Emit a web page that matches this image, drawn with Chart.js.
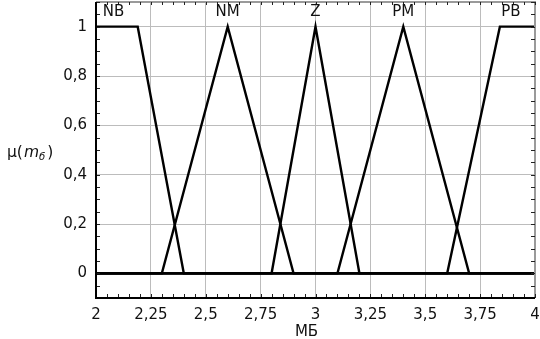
<!DOCTYPE html>
<html>
<head>
<meta charset="utf-8">
<script src="https://cdn.jsdelivr.net/npm/chart.js@4/dist/chart.umd.min.js"></script>
<style>
  html, body { margin: 0; padding: 0; background: #fff; }
  #wrap { width: 540px; height: 339px; }
</style>
</head>
<body>
<div id="wrap"><canvas id="chart"></canvas></div>
<script>
// membership functions (x in MБ, y = mu)
const nbX = [2, 2.19, 2.4, 4];
const nbY = [1, 1, 0, 0];
const nmX = [2, 2.3, 2.6, 2.9, 4];
const nmY = [0, 0, 1, 0, 0];
const zX = [2, 2.8, 3.0, 3.2, 4];
const zY = [0, 0, 1, 0, 0];
const pmX = [2, 3.1, 3.4, 3.7, 4];
const pmY = [0, 0, 1, 0, 0];
const pbX = [2, 3.6, 3.84, 4];
const pbY = [0, 0, 1, 1];

// term names and where they sit on the x axis
const termNames = ["NB", "NM", "Z", "PM", "PB"];
const termPos = [2.08, 2.6, 3.0, 3.4, 3.89];

const xTicks = [2, 2.25, 2.5, 2.75, 3, 3.25, 3.5, 3.75, 4];
const yTicks = [0, 0.2, 0.4, 0.6, 0.8, 1];

const FONT = "DejaVu Sans";

function pts(xs, ys) {
  return xs.map((x, i) => ({ x: x, y: ys[i] }));
}

function comma(v) {
  return String(Math.round(v * 100) / 100).replace(".", ",");
}

function ds(xs, ys) {
  return {
    data: pts(xs, ys),
    showLine: true,
    borderColor: "#000",
    borderWidth: 2.4,
    pointRadius: 0,
    tension: 0,
    fill: false,
  };
}

// frame, inward ticks, term names and axis titles
const decor = {
  id: "decor",
  afterDatasetsDraw(chart) {
    const ctx = chart.ctx;
    const a = chart.chartArea;
    const xs = chart.scales.x;
    const ys = chart.scales.y;
    ctx.save();

    // top & right border (grey)
    ctx.strokeStyle = "#9a9a9a";
    ctx.lineWidth = 2;
    ctx.beginPath();
    ctx.moveTo(a.left, a.top);
    ctx.lineTo(a.right, a.top);
    ctx.lineTo(a.right, a.bottom);
    ctx.stroke();

    // minor ticks every 0.05
    ctx.strokeStyle = "#222";
    ctx.lineWidth = 1;
    ctx.beginPath();
    for (let i = 0; i <= 40; i++) {
      const px = Math.round(xs.getPixelForValue(2 + i * 0.05)) + 0.5;
      ctx.moveTo(px, a.bottom);
      ctx.lineTo(px, a.bottom - 4);
      ctx.moveTo(px, a.top);
      ctx.lineTo(px, a.top + 3);
    }
    for (let i = -2; i <= 22; i++) {
      const py = Math.round(ys.getPixelForValue(i * 0.05)) + 0.5;
      ctx.moveTo(a.left, py);
      ctx.lineTo(a.left + 4, py);
      ctx.moveTo(a.right, py);
      ctx.lineTo(a.right - 4, py);
    }
    ctx.stroke();

    // left & bottom axis lines (black)
    ctx.strokeStyle = "#000";
    ctx.lineWidth = 2;
    ctx.beginPath();
    ctx.moveTo(a.left, a.top);
    ctx.lineTo(a.left, a.bottom);
    ctx.lineTo(a.right, a.bottom);
    ctx.stroke();

    // term names
    ctx.fillStyle = "#111";
    ctx.font = "15px '" + FONT + "'";
    ctx.textAlign = "center";
    ctx.textBaseline = "middle";
    termNames.forEach((t, i) => {
      ctx.fillText(t, xs.getPixelForValue(termPos[i]), ys.getPixelForValue(1.057));
    });

    // x axis title
    ctx.textBaseline = "alphabetic";
    ctx.fillText("МБ", a.left + (a.right - a.left) / 2 - 9, 336);

    // y axis title: μ(m_б)
    ctx.textAlign = "left";
    let x = 7;
    const base = 157;
    ctx.font = "15.5px '" + FONT + "'";
    ctx.fillText("μ(", x, base);
    x += ctx.measureText("μ(").width + 1;
    ctx.font = "italic 15.5px '" + FONT + "'";
    ctx.fillText("m", x, base);
    x += ctx.measureText("m").width;
    ctx.font = "italic 10px '" + FONT + "'";
    ctx.fillText("б", x, base + 3);
    x += ctx.measureText("б").width + 2;
    ctx.font = "15.5px '" + FONT + "'";
    ctx.fillText(")", x, base);

    ctx.restore();
  },
};

new Chart(document.getElementById("chart"), {
  type: "scatter",
  data: {
    datasets: [ds(nbX, nbY), ds(nmX, nmY), ds(zX, zY), ds(pmX, pmY), ds(pbX, pbY)],
  },
  options: {
    responsive: true,
    maintainAspectRatio: false,
    animation: false,
    layout: { padding: { top: 2, right: 5, left: 0, bottom: 0 } },
    plugins: { legend: { display: false }, tooltip: { enabled: false } },
    scales: {
      x: {
        type: "linear",
        min: 2,
        max: 4,
        afterBuildTicks: (s) => { s.ticks = xTicks.map((v) => ({ value: v })); },
        afterFit: (s) => { s.height = 41; s.paddingRight = 0; s.paddingLeft = 0; },
        grid: { color: "#bcbcbc", lineWidth: 1, drawTicks: false },
        border: { display: false },
        ticks: {
          padding: 8,
          color: "#111",
          font: { family: FONT, size: 15 },
          callback: (v) => comma(v),
          maxRotation: 0,
          autoSkip: false,
        },
      },
      y: {
        min: -0.1,
        max: 1.1,
        afterBuildTicks: (s) => { s.ticks = yTicks.map((v) => ({ value: v })); },
        afterFit: (s) => { s.width = 96; s.paddingTop = 0; s.paddingBottom = 0; },
        grid: { color: "#bcbcbc", lineWidth: 1, drawTicks: false },
        border: { display: false },
        ticks: {
          padding: 9,
          color: "#111",
          font: { family: FONT, size: 15 },
          callback: (v) => comma(v),
        },
      },
    },
  },
  plugins: [decor],
});
</script>
</body>
</html>
